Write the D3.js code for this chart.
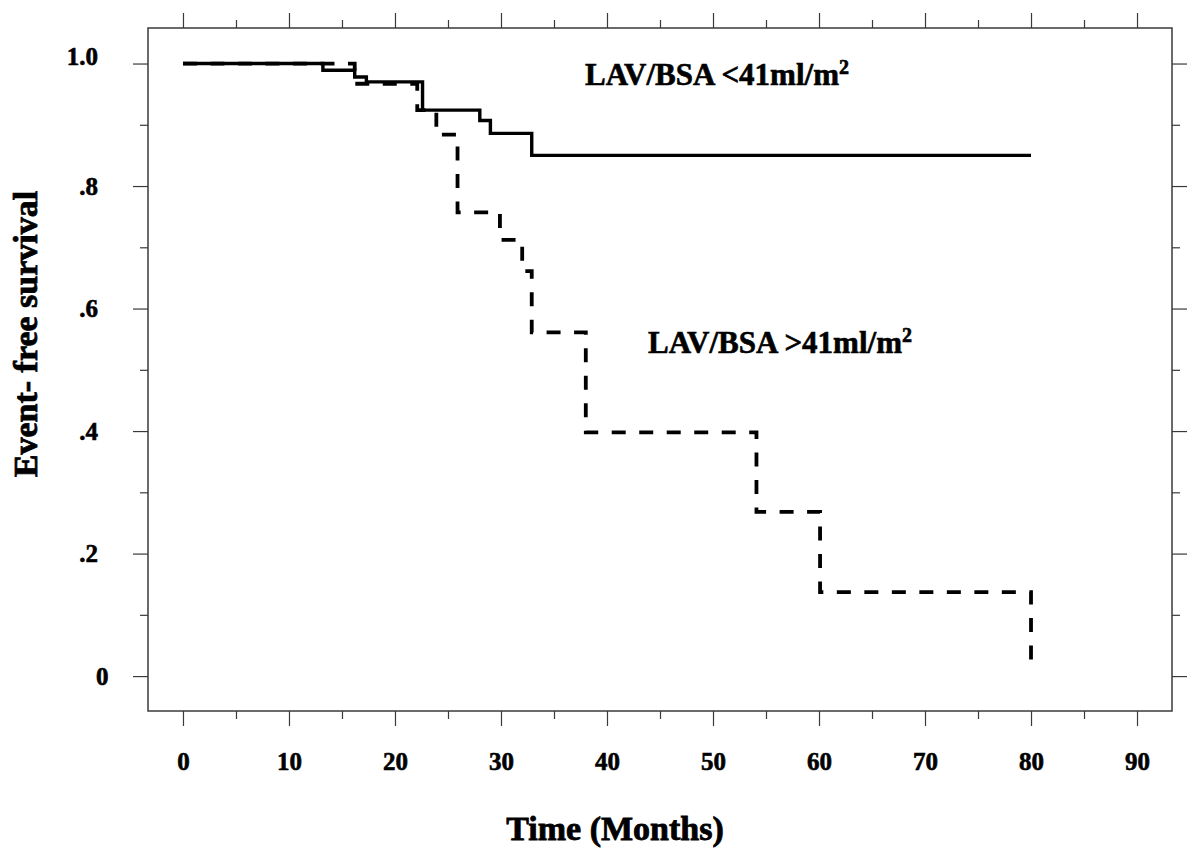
<!DOCTYPE html>
<html><head><meta charset="utf-8">
<script src="https://cdn.jsdelivr.net/npm/d3@7"></script>
<style>body{margin:0;background:#fff}svg{display:block}</style>
</head><body><svg id="chart" width="1200" height="862"></svg>
<script>
// ---- data ----
const timeMajorTicks = [0,10,20,30,40,50,60,70,80,90];
const timeMinorTicks = [5,15,25,35,45,55,65,75,85];
const survMajorTicks = [0,0.2,0.4,0.6,0.8,1.0];
const survMinorTicks = [0.1,0.3,0.5,0.7,0.9];
const survTickLabels = ["0",".2",".4",".6",".8","1.0"];

// LAV/BSA < 41 ml/m2 (solid)
const lowTimes = [0, 13.2, 16.2, 17.3, 22.6, 28.0, 29.0, 32.9, 80];
const lowSurv  = [1.0, 0.989, 0.978, 0.970, 0.924, 0.907, 0.886, 0.850, 0.850];
// LAV/BSA > 41 ml/m2 (dashed)
const highTimes = [0, 16.2, 22.1, 23.9, 25.9, 29.9, 32.0, 32.9, 38.0, 54.1, 60.1, 80];
const highSurv  = [1.0, 0.967, 0.924, 0.884, 0.757, 0.712, 0.661, 0.561, 0.398, 0.268, 0.137, 0.021];

const labelLow = "LAV/BSA <41ml/m";
const labelHigh = "LAV/BSA >41ml/m";
const xTitle = "Time (Months)";
const yTitle = "Event- free survival";

// ---- chart ----
const svg = d3.select("#chart");
const L = 148, R = 1172, T = 28, B = 711;
const x = d3.scaleLinear().domain([-3.3, 93.3]).range([L, R]);
const y = d3.scaleLinear().domain([-0.057, 1.058]).range([B, T]);
const font = "'Liberation Serif','Times New Roman',serif";
const axisColor = "#3a3a3a";

function styleAxis(g){
  g.select(".domain").remove();
  g.selectAll(".tick line").attr("stroke", axisColor).attr("stroke-width", 1.2);
  g.selectAll("text").attr("font-family", font).attr("font-weight", "bold")
    .attr("font-size", 25).attr("fill", "#000").attr("stroke", "#000").attr("stroke-width", 0.6);
}

// bottom
svg.append("g").attr("transform", `translate(0,${B})`)
  .call(d3.axisBottom(x).tickValues(timeMajorTicks).tickSize(15).tickPadding(26).tickFormat(d3.format("d")))
  .call(styleAxis);
svg.append("g").attr("transform", `translate(0,${B})`)
  .call(d3.axisBottom(x).tickValues(timeMinorTicks).tickSize(8).tickFormat(""))
  .call(styleAxis);
// top
svg.append("g").attr("transform", `translate(0,${T})`)
  .call(d3.axisTop(x).tickValues(timeMajorTicks).tickSize(15).tickFormat(""))
  .call(styleAxis);
svg.append("g").attr("transform", `translate(0,${T})`)
  .call(d3.axisTop(x).tickValues(timeMinorTicks).tickSize(8).tickFormat(""))
  .call(styleAxis);
// left
const leftAx = svg.append("g").attr("transform", `translate(${L},0)`)
  .call(d3.axisLeft(y).tickValues(survMajorTicks).tickSize(15).tickPadding(35)
    .tickFormat((d,i) => survTickLabels[i]))
  .call(styleAxis);
leftAx.selectAll("text").filter(d => d === 0).attr("text-anchor", "start").attr("x", -52);
leftAx.selectAll("text").filter(d => d === 1).attr("dy", "0.05em");
svg.append("g").attr("transform", `translate(${L},0)`)
  .call(d3.axisLeft(y).tickValues(survMinorTicks).tickSize(8).tickFormat(""))
  .call(styleAxis);
// right
svg.append("g").attr("transform", `translate(${R},0)`)
  .call(d3.axisRight(y).tickValues(survMajorTicks).tickSize(15).tickFormat(""))
  .call(styleAxis);
svg.append("g").attr("transform", `translate(${R},0)`)
  .call(d3.axisRight(y).tickValues(survMinorTicks).tickSize(8).tickFormat(""))
  .call(styleAxis);

// frame
svg.append("rect").attr("x", L).attr("y", T).attr("width", R - L).attr("height", B - T)
  .attr("fill", "none").attr("stroke", axisColor).attr("stroke-width", 1.5);

// curves
const line = d3.line().x(d => x(d[0])).y(d => y(d[1])).curve(d3.curveStepAfter);
svg.append("path").datum(lowTimes.map((t,i) => [t, lowSurv[i]]))
  .attr("d", line).attr("fill", "none").attr("stroke", "#000").attr("stroke-width", 3.4);
svg.append("path").datum(highTimes.map((t,i) => [t, highSurv[i]]))
  .attr("d", line).attr("fill", "none").attr("stroke", "#000").attr("stroke-width", 3.8)
  .attr("stroke-dasharray", "14,13.5");

// annotations
function annot(txt, xx, yy){
  const t = svg.append("text").attr("x", xx).attr("y", yy)
    .attr("font-family", font).attr("font-weight", "bold").attr("font-size", 31)
    .attr("fill", "#000").attr("stroke", "#000").attr("stroke-width", 0.6);
  t.append("tspan").text(txt);
  t.append("tspan").attr("font-size", 20).attr("dy", -11).text("2");
}
annot(labelLow, 585, 85);
annot(labelHigh, 648, 353);

// axis titles
svg.append("text").attr("x", 615).attr("y", 840).attr("text-anchor", "middle")
  .attr("font-family", font).attr("font-weight", "bold").attr("font-size", 34)
  .attr("stroke", "#000").attr("stroke-width", 0.8).text(xTitle);
svg.append("text").attr("transform", "translate(37,334) rotate(-90)").attr("text-anchor", "middle")
  .attr("font-family", font).attr("font-weight", "bold").attr("font-size", 34)
  .attr("stroke", "#000").attr("stroke-width", 0.8).text(yTitle);
</script>
</body></html>
